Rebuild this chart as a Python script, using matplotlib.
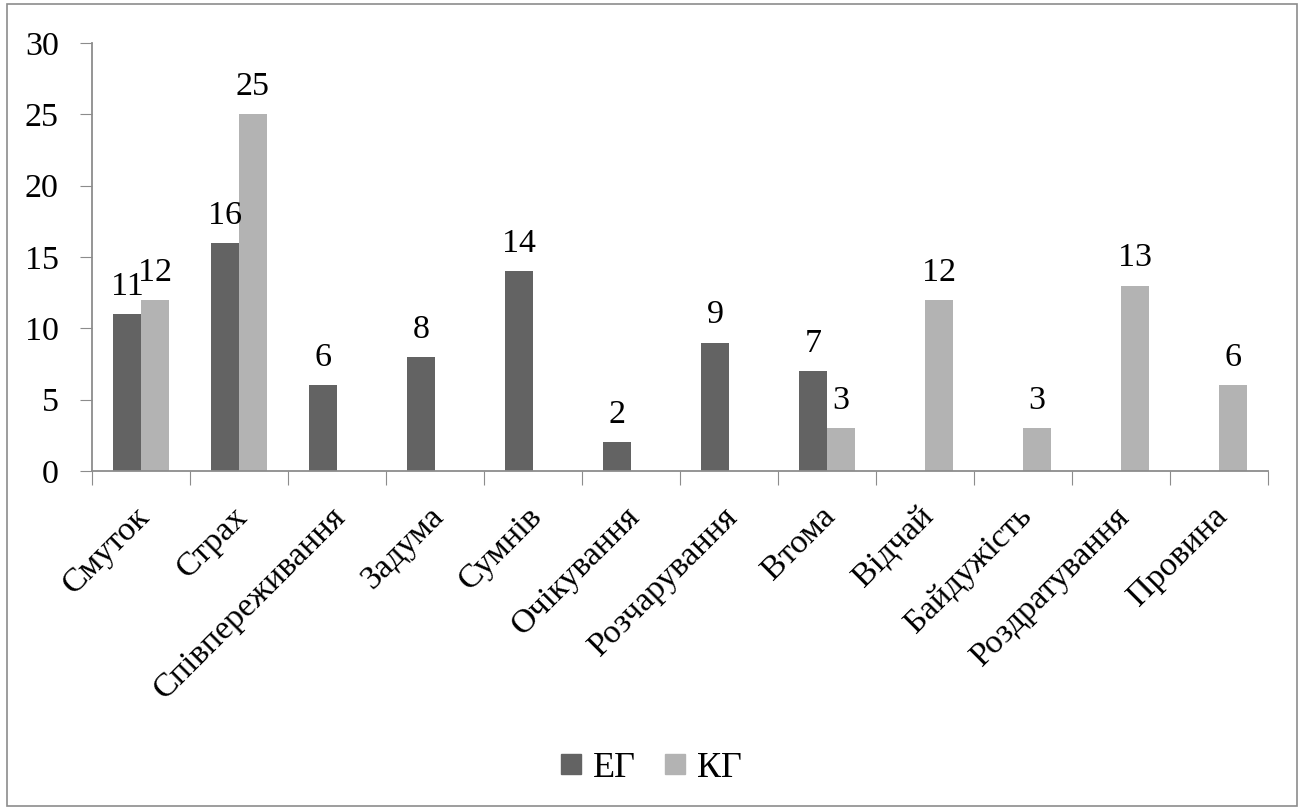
import matplotlib.pyplot as plt
from matplotlib.lines import Line2D
from matplotlib.patches import Rectangle
import numpy as np

plt.rcParams['font.family'] = ['Liberation Serif', 'DejaVu Serif']

categories = ['Смуток', 'Страх', 'Співпереживання', 'Задума', 'Сумнів', 'Очікування',
              'Розчарування', 'Втома', 'Відчай', 'Байдужість', 'Роздратування', 'Провина']
eg = [11, 16, 6, 8, 14, 2, 9, 7, 0, 0, 0, 0]
kg = [12, 25, 0, 0, 0, 0, 0, 3, 12, 3, 13, 6]

color_eg = '#636363'
color_kg = '#b3b3b3'
axis_color = '#8c8c8c'
fs = 24.5

fig = plt.figure(figsize=(13.02, 8.10), dpi=100)
ax = fig.add_axes([92 / 1302, 1 - 471 / 810, 1176 / 1302, 428 / 810])

x = np.arange(len(categories))
w = 0.2857
bars_eg = ax.bar(x - w / 2, eg, w, color=color_eg)
bars_kg = ax.bar(x + w / 2, kg, w, color=color_kg)

# value labels only where the bar exists
for bars, vals in ((bars_eg, eg), (bars_kg, kg)):
    for b, v in zip(bars, vals):
        if v:
            ax.text(b.get_x() + b.get_width() / 2, v + 0.85, str(v),
                    ha='center', va='bottom', fontsize=fs)

ax.set_xlim(-0.5, len(categories) - 0.5)
ax.set_ylim(0, 30)
ax.set_yticks(range(0, 31, 5))
ax.tick_params(axis='y', labelsize=fs, length=9, color=axis_color, pad=15)

# category ticks sit on the boundaries between groups
ax.set_xticks(np.arange(-0.5, len(categories), 1.0))
ax.set_xticklabels([])
ax.tick_params(axis='x', length=10, color=axis_color)
for i, name in enumerate(categories):
    ax.text(i - 0.07, -2.1, name, rotation=45, ha='right', va='top',
            rotation_mode='anchor', fontsize=fs)

for side in ('top', 'right'):
    ax.spines[side].set_visible(False)
for side in ('left', 'bottom'):
    ax.spines[side].set_color(axis_color)
    ax.spines[side].set_linewidth(1.3)

handles = [Line2D([0], [0], marker='s', linestyle='none', markersize=14,
                  markerfacecolor=c, markeredgecolor=c, label=l)
           for c, l in ((color_eg, 'ЕГ'), (color_kg, 'КГ'))]
fig.legend(handles=handles, loc='center', bbox_to_anchor=(0.5, 1 - 768 / 810), ncol=2,
           frameon=False, prop={'size': 26}, handlelength=0.6, handletextpad=0.3,
           columnspacing=0.8)

fig.patches.append(Rectangle((7 / 1302, 4 / 810), 1290 / 1302, 802 / 810,
                             transform=fig.transFigure, fill=False,
                             edgecolor=axis_color, linewidth=1.2))

fig.savefig('out.png', dpi=100)
